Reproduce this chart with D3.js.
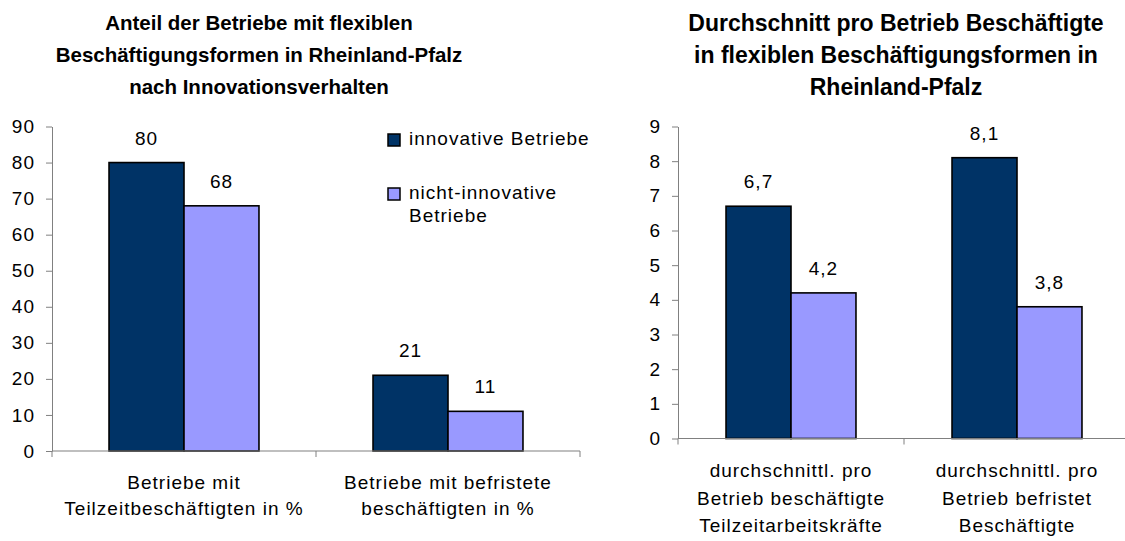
<!DOCTYPE html>
<html><head><meta charset="utf-8">
<script src="https://cdn.jsdelivr.net/npm/d3@7"></script>
<style>
html,body{margin:0;padding:0;background:#fff;}
svg{display:block;font-family:"Liberation Sans",Arial,sans-serif;}
.t{font-size:19px;letter-spacing:1px;fill:#000;}
</style></head><body>
<svg id="c" width="1125" height="541"></svg>
<script>
// ---- data ----
const series = ["innovative Betriebe", "nicht-innovative Betriebe"];
const colors = ["#003366", "#9999FF"];

const leftTitle = ["Anteil der Betriebe mit flexiblen", "Beschäftigungsformen in Rheinland-Pfalz", "nach Innovationsverhalten"];
const leftCategories = ["Betriebe mit Teilzeitbeschäftigten in %", "Betriebe mit befristete beschäftigten in %"];
const leftCatLines = [["Betriebe mit", "Teilzeitbeschäftigten in %"], ["Betriebe mit befristete", "beschäftigten in %"]];
const leftInnovative = [80, 21];
const leftNonInnovative = [68, 11];
const leftTicks = [0, 10, 20, 30, 40, 50, 60, 70, 80, 90];

const rightTitle = ["Durchschnitt pro Betrieb Beschäftigte", "in flexiblen Beschäftigungsformen in", "Rheinland-Pfalz"];
const rightCategories = ["durchschnittl. pro Betrieb beschäftigte Teilzeitarbeitskräfte", "durchschnittl. pro Betrieb befristet Beschäftigte"];
const rightCatLines = [["durchschnittl. pro", "Betrieb beschäftigte", "Teilzeitarbeitskräfte"], ["durchschnittl. pro", "Betrieb befristet", "Beschäftigte"]];
const rightInnovative = [6.7, 8.1];
const rightNonInnovative = [4.2, 3.8];
const rightTicks = [0, 1, 2, 3, 4, 5, 6, 7, 8, 9];

const svg = d3.select("#c");
const fmt = v => String(v).replace(".", ",");

function drawChart(cfg) {
  const g = svg.append("g");
  const x0 = d3.scaleBand().domain(cfg.categories).range([cfg.x0, cfg.x1])
    .paddingInner(cfg.pad).paddingOuter(cfg.pad / 2);
  const x1 = d3.scaleBand().domain(series).range([0, x0.bandwidth()]);
  const y = d3.scaleLinear().domain(cfg.domain).range([cfg.yb, cfg.yt]);

  // title
  g.append("text").attr("text-anchor", "middle")
    .style("font-weight", "bold").style("font-size", cfg.titleSize + "px")
    .selectAll("tspan").data(cfg.title).join("tspan")
    .attr("x", cfg.titleX).attr("y", (d, i) => cfg.titleY + i * cfg.titleGap).text(d => d);

  // y axis
  const ya = g.append("g").attr("transform", `translate(${cfg.x0},0)`)
    .call(d3.axisLeft(y).tickValues(cfg.ticks).tickSize(6).tickSizeOuter(0).tickPadding(11).tickFormat(d => d));
  ya.select(".domain").attr("stroke", "#808080");
  ya.selectAll(".tick line").attr("stroke", "#808080");
  ya.selectAll(".tick text").attr("class", "t").attr("font-family", null).attr("font-size", null);

  // bars
  const rows = cfg.categories.map((c, i) => ({ c, vals: [cfg.a[i], cfg.b[i]] }));
  const grp = g.selectAll(".grp").data(rows).join("g")
    .attr("transform", d => `translate(${x0(d.c)},0)`);
  grp.selectAll("rect").data(d => d.vals.map((v, k) => ({ s: series[k], v, k }))).join("rect")
    .attr("x", d => x1(d.s)).attr("width", x1.bandwidth())
    .attr("y", d => y(d.v)).attr("height", d => y(0) - y(d.v))
    .attr("fill", d => colors[d.k]).attr("stroke", "#000").attr("stroke-width", 1.6);
  grp.selectAll("text.lbl").data(d => d.vals.map((v, k) => ({ s: series[k], v, k }))).join("text")
    .attr("class", "t lbl").attr("text-anchor", "middle")
    .attr("x", d => x1(d.s) + x1.bandwidth() / 2).attr("y", d => y(d.v) - 18).text(d => fmt(d.v));

  // x axis
  g.append("line").attr("x1", cfg.x0).attr("x2", cfg.x1).attr("y1", y(0)).attr("y2", y(0))
    .attr("stroke", "#808080").attr("stroke-width", 1.2);
  const bounds = [cfg.x0, ...cfg.categories.slice(1).map(c => x0(c) - x0.step() * cfg.pad / 2), cfg.x1];
  g.selectAll(".xt").data(bounds).join("line")
    .attr("x1", d => d).attr("x2", d => d).attr("y1", y(0)).attr("y2", y(0) + 6)
    .attr("stroke", "#808080");
  // category labels
  g.selectAll(".cl").data(cfg.categories).join("text").attr("class", "t").attr("text-anchor", "middle")
    .each(function (c, i) {
      d3.select(this).selectAll("tspan").data(cfg.catLines[i]).join("tspan")
        .attr("x", x0(c) + x0.bandwidth() / 2).attr("y", (d, j) => cfg.catY + j * cfg.catGap).text(d => d);
    });
}

drawChart({
  categories: leftCategories, catLines: leftCatLines, a: leftInnovative, b: leftNonInnovative,
  ticks: leftTicks, domain: [0, 90], x0: 52, x1: 580, yb: 451, yt: 126.5, pad: 0.432,
  title: leftTitle, titleX: 259, titleY: 30, titleGap: 32, titleSize: 20.5,
  catY: 489, catGap: 26
});
drawChart({
  categories: rightCategories, catLines: rightCatLines, a: rightInnovative, b: rightNonInnovative,
  ticks: rightTicks, domain: [0, 9], x0: 678, x1: 1130, yb: 438.5, yt: 126.5, pad: 0.425,
  title: rightTitle, titleX: 896, titleY: 31, titleGap: 32, titleSize: 23,
  catY: 477, catGap: 27.5
});

// legend (left chart)
const leg = svg.append("g");
const legLines = [["innovative Betriebe"], ["nicht-innovative", "Betriebe"]];
const legY = [145, 199];
series.forEach((s, i) => {
  leg.append("rect").attr("x", 388).attr("y", legY[i] - 11).attr("width", 12).attr("height", 12)
    .attr("fill", colors[i]).attr("stroke", "#000").attr("stroke-width", 1.5);
  leg.append("text").attr("class", "t").selectAll("tspan").data(legLines[i]).join("tspan")
    .attr("x", 409).attr("y", (d, j) => legY[i] + j * 23).text(d => d);
});
</script></body></html>
